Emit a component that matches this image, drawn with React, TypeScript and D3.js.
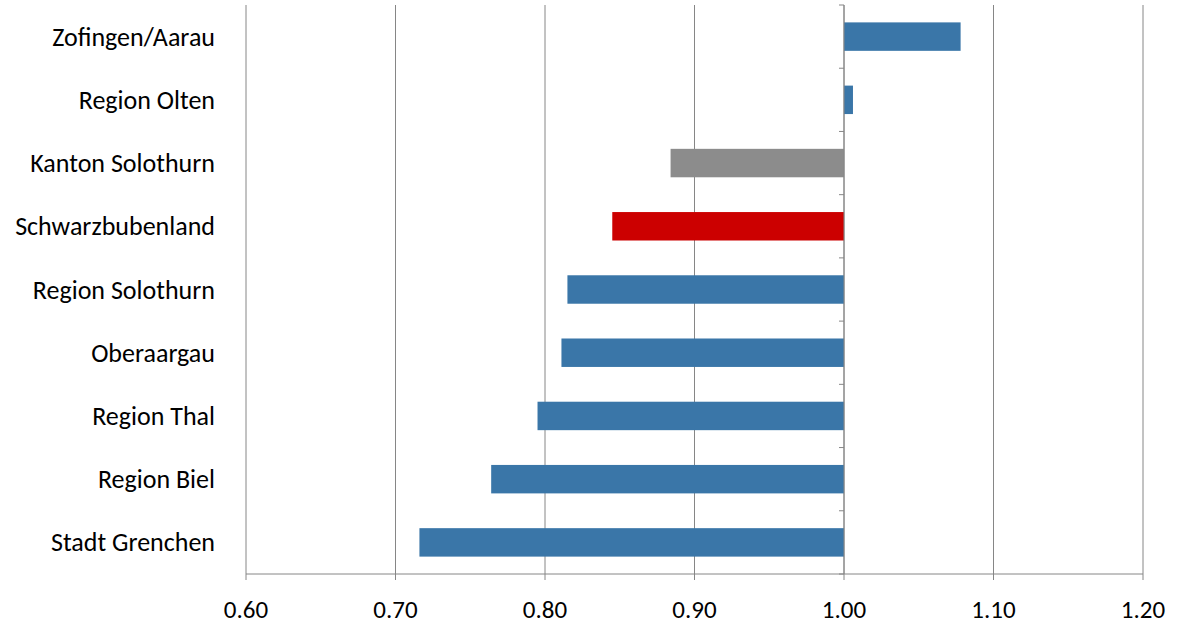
import React from 'react';
import * as d3 from 'd3';

const categories = [
  'Zofingen/Aarau',
  'Region Olten',
  'Kanton Solothurn',
  'Schwarzbubenland',
  'Region Solothurn',
  'Oberaargau',
  'Region Thal',
  'Region Biel',
  'Stadt Grenchen',
];
const values = [1.078, 1.006, 0.884, 0.845, 0.815, 0.811, 0.795, 0.764, 0.716];
const colors = ['#3a76a8', '#3a76a8', '#8c8c8c', '#cc0000', '#3a76a8', '#3a76a8', '#3a76a8', '#3a76a8', '#3a76a8'];
const ticks = [0.6, 0.7, 0.8, 0.9, 1.0, 1.1, 1.2];

const W = 1179;
const H = 625;
const left = 246;
const right = 1143;
const top = 5;
const bottom = 574;

export default function App() {
  const x = d3.scaleLinear().domain([0.6, 1.2]).range([left, right]);
  const y = d3.scaleBand<string>().domain(categories).range([top, bottom]).paddingInner(0.55).paddingOuter(0.275);
  const band = d3.scaleBand<string>().domain(categories).range([top, bottom]);
  const font = "Carlito, 'Open Sans', 'Liberation Sans', sans-serif";
  return (
    <svg width={W} height={H} style={{ position: 'absolute', left: 0, top: 0, fontFamily: font }}>
      <rect width={W} height={H} fill="#fff" />
      {ticks.map((t) => (
        <g key={t}>
          <line x1={x(t)} x2={x(t)} y1={top} y2={bottom + 6} stroke="#868686" strokeWidth={1} />
          <text x={x(t)} y={618} textAnchor="middle" fontSize={25} fill="#000">{t.toFixed(2)}</text>
        </g>
      ))}
      <line x1={left} x2={right} y1={bottom} y2={bottom} stroke="#868686" />
      {categories.map((c, i) => (
        <g key={c}>
          <rect
            x={x(Math.min(values[i], 1))}
            width={Math.abs(x(values[i]) - x(1))}
            y={y(c)!}
            height={y.bandwidth()}
            fill={colors[i]}
          />
          <text x={215} y={band(c)! + band.bandwidth() / 2 + 9} textAnchor="end" fontSize={26} fill="#000">{c}</text>
        </g>
      ))}
      <line x1={x(1)} x2={x(1)} y1={top} y2={bottom} stroke="#868686" />
      {d3.range(categories.length + 1).map((i) => (
        <line key={i} x1={x(1)} x2={x(1) - 5} y1={top + i * band.step()} y2={top + i * band.step()} stroke="#868686" />
      ))}
    </svg>
  );
}
